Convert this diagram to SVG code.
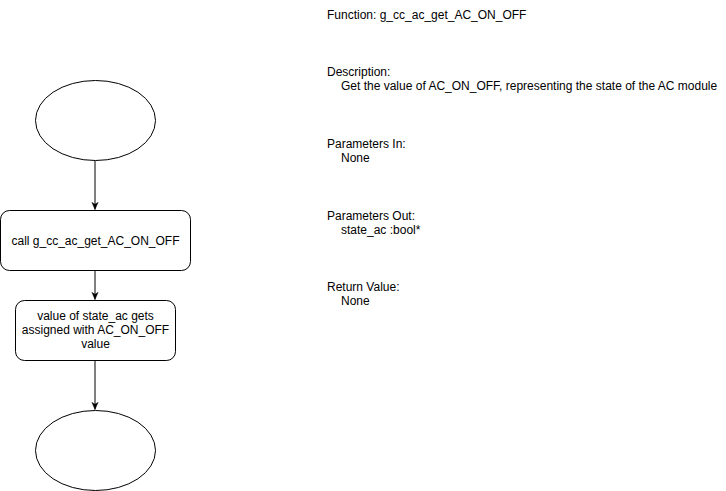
<svg xmlns="http://www.w3.org/2000/svg" width="726" height="491" viewBox="0 0 726 491">
<defs>
<style>
.shape{fill:#ffffff;stroke:#000000;stroke-width:1}
.conn{stroke:#000000;stroke-width:1;fill:none}
text{font-family:"Liberation Sans",Arial,Helvetica,sans-serif;font-size:12px;fill:#000000}
.c{text-anchor:middle}
</style>
<marker id="arr" viewBox="0 0 10 10" refX="9" refY="5" markerWidth="8" markerHeight="8" markerUnits="userSpaceOnUse" orient="auto">
<path d="M0,1 L9,5 L0,9 L2.5,5 Z" fill="#000000" stroke="#000000" stroke-width="0.5"/>
</marker>
</defs>
<rect width="726" height="491" fill="#ffffff"/>
<g id="connectors">
<line class="conn" x1="95" y1="160.5" x2="95" y2="209.5" marker-end="url(#arr)"/>
<line class="conn" x1="95" y1="270.5" x2="95" y2="299.5" marker-end="url(#arr)"/>
<line class="conn" x1="95" y1="360.5" x2="95" y2="409.5" marker-end="url(#arr)"/>
</g>
<g id="start">
<ellipse class="shape" cx="95.5" cy="120.5" rx="60" ry="40"/>
</g>
<g id="call">
<rect class="shape" x="0.5" y="210.5" width="190" height="60" rx="9" ry="9"/>
<text class="c" x="95.5" y="245">call g_cc_ac_get_AC_ON_OFF</text>
</g>
<g id="assign">
<rect class="shape" x="15.5" y="300.5" width="160" height="60" rx="9" ry="9"/>
<text class="c" x="95.5" y="320">value of state_ac gets</text>
<text class="c" x="95.5" y="334">assigned with AC_ON_OFF</text>
<text class="c" x="95.5" y="348">value</text>
</g>
<g id="end">
<ellipse class="shape" cx="95.5" cy="450.5" rx="60" ry="40"/>
</g>
<g id="description">
<text x="327" y="19">Function: g_cc_ac_get_AC_ON_OFF</text>
<text x="327" y="76">Description:</text>
<text x="341" y="90">Get the value of AC_ON_OFF, representing the state of the AC module</text>
<text x="327" y="148">Parameters In:</text>
<text x="341" y="162">None</text>
<text x="327" y="220">Parameters Out:</text>
<text x="341" y="234">state_ac :bool*</text>
<text x="327" y="291">Return Value:</text>
<text x="341" y="305">None</text>
</g>
</svg>
